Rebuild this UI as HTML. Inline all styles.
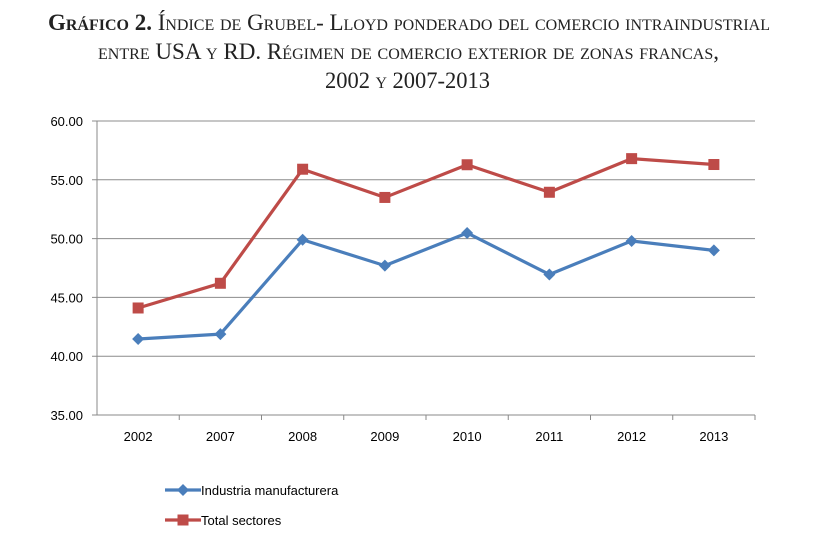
<!DOCTYPE html>
<html><head><meta charset="utf-8"><style>
html,body{margin:0;padding:0;background:#fff;width:837px;height:534px;overflow:hidden}
svg{display:block}
.t{font-family:"Liberation Serif",serif;font-variant:small-caps;font-size:23px;fill:#222}
.ax{font-family:"Liberation Sans",sans-serif;font-size:13px;fill:#000}
</style></head><body>
<svg id="chart" width="837" height="534">
<text class="t" x="48" y="30" textLength="722" lengthAdjust="spacingAndGlyphs"><tspan font-weight="bold">Gráfico 2.</tspan> Índice de Grubel- Lloyd ponderado del comercio intraindustrial</text>
<text class="t" x="98" y="59" textLength="621" lengthAdjust="spacingAndGlyphs">entre USA y RD. Régimen de comercio exterior de zonas francas,</text>
<text class="t" x="325" y="88" textLength="165" lengthAdjust="spacingAndGlyphs">2002 y 2007-2013</text>
<g id="grid"></g><g id="series"></g><g id="legend"></g>
</svg>
<script>
const categories=["2002","2007","2008","2009","2010","2011","2012","2013"];
const industria=[41.46,41.88,49.9,47.7,50.48,46.95,49.8,49.0];
const total=[44.1,46.2,55.9,53.5,56.28,53.94,56.8,56.3];
const yTicks=[35,40,45,50,55,60];
const NS="http://www.w3.org/2000/svg";
const X0=97,X1=755,Y0=415,Y1=121,yMin=35,yMax=60;
const bw=(X1-X0)/categories.length;
const xS=i=>X0+bw*(i+0.5);
const yS=v=>Y0-(v-yMin)/(yMax-yMin)*(Y0-Y1);
function mk(tag,attrs,parent){const e=document.createElementNS(NS,tag);for(const k in attrs)e.setAttribute(k,attrs[k]);parent.appendChild(e);return e;}
const grid=document.getElementById('grid');
yTicks.forEach(t=>{
 const l=mk('line',{x1:X0-5,x2:X1,y1:yS(t),y2:yS(t),stroke:t===35?'#888':'#8c8c8c','stroke-width':1},grid);
 
 
 const tx=mk('text',{x:X0-14,y:yS(t)+5,'text-anchor':'end',class:'ax'},grid);
 tx.textContent=t.toFixed(2);
 
 
});
const ya=mk('line',{x1:X0,x2:X0,y1:Y1,y2:Y0,stroke:'#888'},grid);


categories.forEach((c,i)=>{
 const tk=mk('line',{x1:X0+bw*(i+1),x2:X0+bw*(i+1),y1:Y0,y2:Y0+5,stroke:'#888'},grid);
 
 
 const tx=mk('text',{x:xS(i),y:Y0+26,'text-anchor':'middle',class:'ax'},grid);
 tx.textContent=c;
 
 
});
const sg=document.getElementById('series');
function marker(x,y,type,color,parent){
 let m;
 if(type==='diamond') m=mk('polygon',{points:`${x},${y-6} ${x+6},${y} ${x},${y+6} ${x-6},${y}`,fill:color},parent);
 else m=mk('rect',{x:x-5.5,y:y-5.5,width:11,height:11,fill:color},parent);
 return m;
}
function series(vals,color,type,name){
 const p=mk('polyline',{points:vals.map((v,i)=>xS(i)+','+yS(v)).join(' '),fill:'none',stroke:color,'stroke-width':3.2,'stroke-linejoin':'round'},sg);
 
 
 vals.forEach((v,i)=>{
  const m=marker(xS(i),yS(v),type,color,sg);
  
  
 });
}
series(industria,'#4a7ebb','diamond','industria');
series(total,'#be4b48','square','total');
const lg=document.getElementById('legend');
[[industria,'#4a7ebb','diamond','Industria manufacturera',490],[total,'#be4b48','square','Total sectores',520]].forEach(d=>{
 const l=mk('line',{x1:165,x2:201,y1:d[4],y2:d[4],stroke:d[1],'stroke-width':3.2},lg);
 
 
 const m=marker(183,d[4],d[2],d[1],lg);
 
 
 const t=mk('text',{x:201,y:d[4]+5,class:'ax'},lg);
 t.textContent=d[3];
 
 
});
</script>
</body></html>
